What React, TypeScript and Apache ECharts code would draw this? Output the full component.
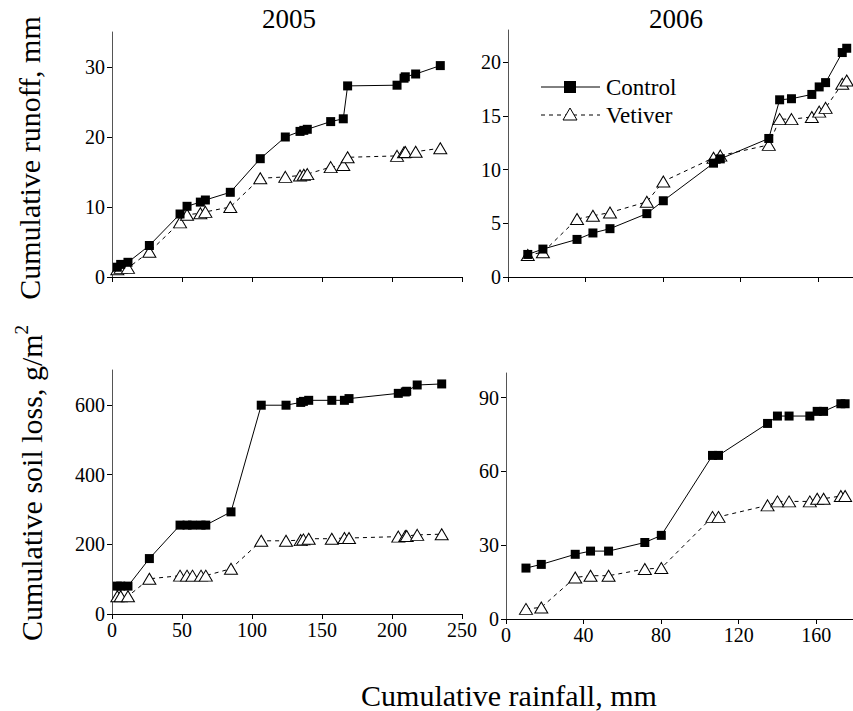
import React, { useEffect, useRef } from "react";
import * as echarts from "echarts";

// 2005 rainfall (mm) for runoff panel
const rain2005Runoff = [3.8, 6.2, 11.4, 26.7, 48.6, 53.6, 63.1, 66.7, 84.5, 105.9, 123.8, 134.3, 137, 139.5, 156.2, 165.2, 168.3, 203.6, 208.6, 209.5, 216.9, 234.5];
const runoff2005Control = [1.4, 1.8, 2.1, 4.5, 9.0, 10.1, 10.7, 11.0, 12.1, 16.9, 20.0, 20.8, 20.95, 21.1, 22.2, 22.6, 27.3, 27.4, 28.4, 28.6, 29.0, 30.2];
const runoff2005Vetiver = [1.1, 1.3, 1.3, 3.6, 7.8, 8.9, 9.1, 9.3, 10.0, 14.1, 14.3, 14.5, 14.6, 14.7, 15.7, 16.0, 17.1, 17.3, 17.8, 17.85, 17.9, 18.4];

// 2005 rainfall (mm) for soil loss panel
const rain2005Soil = [3.8, 6.2, 11.4, 26.7, 48.6, 53.6, 57.5, 63.6, 67, 85, 106.6, 124.3, 134.8, 136.7, 140.5, 157, 166, 169.3, 204.5, 209.5, 210.5, 218, 235.5];
const soil2005Control = [80, 80, 80, 159, 255, 255, 255, 255, 255, 293, 599, 599, 607, 610, 613, 613, 613, 618, 633, 637, 639, 657, 660];
const soil2005Vetiver = [51, 51, 51, 101, 110, 110, 110, 110, 110, 130, 210, 210, 212, 214, 216, 216, 218, 218, 222, 224, 224, 227, 229];

// 2006
const rain2006Runoff = [10.2, 18.0, 35.6, 43.8, 52.6, 71.6, 80.1, 106.0, 109.5, 134.5, 140.1, 146.2, 156.7, 160.5, 163.8, 172.4, 174.7];
const runoff2006Control = [2.1, 2.6, 3.5, 4.1, 4.5, 5.9, 7.1, 10.6, 11.0, 12.9, 16.5, 16.6, 17.0, 17.7, 18.1, 20.9, 21.3];
const runoff2006Vetiver = [2.05, 2.3, 5.4, 5.7, 6.0, 7.0, 8.9, 11.1, 11.3, 12.3, 14.7, 14.7, 14.9, 15.4, 15.75, 18.0, 18.3];

const rain2006Soil = [10.3, 18.2, 35.7, 43.6, 52.9, 71.6, 80.1, 106.5, 109.6, 134.9, 140, 146, 156.7, 160.5, 163.8, 172.7, 174.9];
const soil2006Control = [20.7, 22.2, 26.3, 27.6, 27.6, 31.1, 34.0, 66.5, 66.5, 79.5, 82.5, 82.5, 82.5, 84.4, 84.4, 87.5, 87.5];
const soil2006Vetiver = [4.1, 4.7, 16.9, 17.6, 17.6, 20.3, 20.7, 41.5, 41.5, 46.2, 47.8, 47.8, 47.8, 48.9, 48.9, 50, 50];

// tick values
const xTicks2005 = [0, 50, 100, 150, 200, 250];
const xTicks2006 = [0, 40, 80, 120, 160];
const yTicksRunoff2005 = [0, 10, 20, 30];
const yTicksRunoff2006 = [0, 5, 10, 15, 20];
const yTicksSoil2005 = [0, 200, 400, 600];
const yTicksSoil2006 = [0, 30, 60, 90];

const yearLabels = ["2005", "2006"];
const seriesNames = ["Control", "Vetiver"];
const xTitle = "Cumulative rainfall, mm";
const yTitleRunoff = "Cumulative runoff, mm";

const FONT = "Liberation Serif";
const FONT_SMALL = "Liberation Serif, Times New Roman, DejaVu Serif, serif";

const zip = (xs: number[], ys: number[]) => xs.map((x, i) => [x, ys[i]]);

export default function App() {
  const ref = useRef<HTMLDivElement>(null);
  useEffect(() => {
    if (!ref.current) return;
    const chart = echarts.init(ref.current, null, { renderer: "svg" });

    const grids = [
      { left: 112, top: 32, width: 350, height: 245 },
      { left: 508, top: 30, width: 349, height: 247 },
      { left: 112, top: 370, width: 350, height: 244 },
      { left: 506, top: 373, width: 349, height: 246 },
    ].map((g) => ({ ...g, outerBoundsMode: "none", containLabel: false }));

    const axisDefs = [
      { x: [0, 250], y: [0, 35], xt: xTicks2005, yt: yTicksRunoff2005, xl: false },
      { x: [0, 180], y: [0, 23], xt: xTicks2006, yt: yTicksRunoff2006, xl: false },
      { x: [0, 250], y: [0, 700], xt: xTicks2005, yt: yTicksSoil2005, xl: true },
      { x: [0, 180], y: [0, 100], xt: xTicks2006, yt: yTicksSoil2006, xl: true },
    ];

    const makeAxis = (
      i: number,
      min: number,
      max: number,
      ticks: number[],
      lineColor: string,
      showLabel: boolean,
      margin: number
    ) => ({
      type: "value",
      gridIndex: i,
      min,
      max,
      axisLine: { show: true, onZero: false, lineStyle: { color: lineColor, width: 1 } },
      axisTick: {
        show: true,
        inside: false,
        length: 5,
        customValues: ticks,
        lineStyle: { color: "#000" },
      },
      splitLine: { show: false },
      axisLabel: {
        show: showLabel,
        customValues: ticks,
        color: "#000",
        fontFamily: FONT_SMALL,
        fontSize: 20,
        fontWeight: "normal",
        fontStyle: "normal",
        margin,
      },
    });

    const xAxes = axisDefs.map((d, i) => makeAxis(i, d.x[0], d.x[1], d.xt, "#000", d.xl, 6));
    const yAxes = axisDefs.map((d, i) => makeAxis(i, d.y[0], d.y[1], d.yt, "#555", true, 7));

    const ctrl = (i: number, data: number[][]) => ({
      type: "line",
      name: seriesNames[0],
      xAxisIndex: i,
      yAxisIndex: i,
      data,
      symbol: "rect",
      symbolSize: 9,
      itemStyle: { color: "#000" },
      lineStyle: { color: "#000", width: 1, type: "solid" },
      z: 3,
    });
    const vet = (i: number, data: number[][]) => ({
      type: "line",
      name: seriesNames[1],
      xAxisIndex: i,
      yAxisIndex: i,
      data,
      symbol: "triangle",
      symbolSize: [13, 11],
      itemStyle: { color: "#fff", borderColor: "#000", borderWidth: 1 },
      lineStyle: { color: "#000", width: 1, type: [4, 4] },
      z: 2,
    });

    // legend, drawn as graphics
    const lx0 = 541, lx1 = 600, lmx = 570, ltx = 606, ly1 = 87, ly2 = 115;
    const legend: any[] = [
      { type: "line", shape: { x1: lx0, y1: ly1, x2: lx1, y2: ly1 }, style: { stroke: "#000", lineWidth: 1 } },
      { type: "rect", shape: { x: lmx - 6, y: ly1 - 6, width: 12, height: 12 }, style: { fill: "#000" } },
      {
        type: "text",
        x: ltx,
        y: ly1,
        style: { text: seriesNames[0], fontFamily: FONT_SMALL, fontSize: 23, fill: "#000", align: "left", verticalAlign: "middle" },
      },
      { type: "line", shape: { x1: lx0, y1: ly2, x2: lx1, y2: ly2 }, style: { stroke: "#000", lineWidth: 1, lineDash: [4, 4] } },
      {
        type: "polygon",
        shape: { points: [[lmx, ly2 - 7], [lmx + 7, ly2 + 5], [lmx - 7, ly2 + 5]] },
        style: { fill: "#fff", stroke: "#000", lineWidth: 1 },
        z: 10,
      },
      {
        type: "text",
        x: ltx,
        y: ly2,
        style: { text: seriesNames[1], fontFamily: FONT_SMALL, fontSize: 23, fill: "#000", align: "left", verticalAlign: "middle" },
      },
    ];

    const titles: any[] = [
      {
        type: "text",
        x: 289,
        y: 19,
        style: { text: yearLabels[0], fontFamily: FONT, fontSize: 27, fill: "#000", align: "center", verticalAlign: "middle" },
      },
      {
        type: "text",
        x: 676,
        y: 19,
        style: { text: yearLabels[1], fontFamily: FONT, fontSize: 27, fill: "#000", align: "center", verticalAlign: "middle" },
      },
      {
        type: "text",
        x: 509,
        y: 695,
        style: { text: xTitle, fontFamily: FONT, fontSize: 30, fill: "#000", align: "center", verticalAlign: "middle" },
      },
      {
        type: "text",
        x: 29,
        y: 158,
        rotation: Math.PI / 2,
        style: { text: yTitleRunoff, fontFamily: FONT, fontSize: 30, fill: "#000", align: "center", verticalAlign: "middle" },
      },
      {
        type: "text",
        x: 29,
        y: 483,
        rotation: Math.PI / 2,
        style: {
          text: "{a|Cumulative soil loss, g/m}{b|2}",
          fill: "#000",
          align: "center",
          verticalAlign: "middle",
          rich: {
            a: { fontFamily: FONT, fontSize: 30, fill: "#000", verticalAlign: "bottom", lineHeight: 34 },
            b: { fontFamily: FONT, fontSize: 19, fill: "#000", verticalAlign: "top", lineHeight: 34 },
          },
        },
      },
    ];

    const option: any = {
      animation: false,
      backgroundColor: "#fff",
      textStyle: { fontFamily: FONT_SMALL },
      grid: grids,
      xAxis: xAxes,
      yAxis: yAxes,
      series: [
        ctrl(0, zip(rain2005Runoff, runoff2005Control)),
        vet(0, zip(rain2005Runoff, runoff2005Vetiver)),
        ctrl(1, zip(rain2006Runoff, runoff2006Control)),
        vet(1, zip(rain2006Runoff, runoff2006Vetiver)),
        ctrl(2, zip(rain2005Soil, soil2005Control)),
        vet(2, zip(rain2005Soil, soil2005Vetiver)),
        ctrl(3, zip(rain2006Soil, soil2006Control)),
        vet(3, zip(rain2006Soil, soil2006Vetiver)),
      ],
      graphic: [...titles, ...legend],
    };
    chart.setOption(option);
    return () => chart.dispose();
  }, []);
  return (
    <div
      ref={ref}
      style={{ position: "absolute", left: 0, top: 0, width: 853, height: 711 }}
    />
  );
}
